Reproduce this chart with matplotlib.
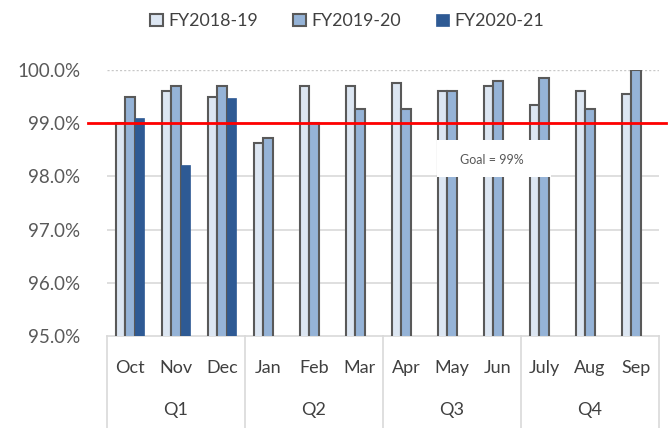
import matplotlib
matplotlib.use("Agg")
import matplotlib.pyplot as plt
import matplotlib.transforms as mtransforms
from matplotlib.patches import Patch
import numpy as np

months = ["Oct", "Nov", "Dec", "Jan", "Feb", "Mar", "Apr", "May", "Jun", "July", "Aug", "Sep"]
quarters = ["Q1", "Q2", "Q3", "Q4"]
fy2018_19 = [99.0, 99.6, 99.5, 98.62, 99.7, 99.7, 99.75, 99.6, 99.7, 99.35, 99.6, 99.55]
fy2019_20 = [99.5, 99.7, 99.7, 98.72, 99.0, 99.26, 99.26, 99.6, 99.8, 99.85, 99.26, 100.0]
fy2020_21 = [99.1, 98.22, 99.48, None, None, None, None, None, None, None, None, None]
series_names = ["FY2018-19", "FY2019-20", "FY2020-21"]
goal = 99.0
yticks = [95, 96, 97, 98, 99, 100]

plt.rcParams['font.family'] = ['Lato', 'DejaVu Sans']

fig = plt.figure(figsize=(6.71, 4.28), dpi=100)
ax = fig.add_axes([107/671, 1 - 336/428, (659-107)/671, (336-70)/428])

x = np.arange(len(months))
w = 0.21
c1, c2, c3 = "#dce6f2", "#95b3d7", "#2e5a94"
edge = "#595959"

ax.bar(x - w, fy2018_19, width=w, color=c1, edgecolor=edge, linewidth=1.5, zorder=3)
ax.bar(x, fy2019_20, width=w, color=c2, edgecolor=edge, linewidth=1.5, zorder=3)
xv = [xi + w for xi, v in zip(x, fy2020_21) if v is not None]
vv = [v for v in fy2020_21 if v is not None]
ax.bar(xv, vv, width=w, color=c3, edgecolor=c3, linewidth=0.5, zorder=3)

ax.set_xlim(-0.5, len(months) - 0.5)
ax.set_ylim(95, 100)
ax.set_yticks(yticks)
ax.set_yticklabels([f"{t:.1f}%" for t in yticks], fontsize=13.5, color="#595959")
ax.tick_params(axis='y', length=0, pad=19)
ax.tick_params(axis='x', length=0, labelbottom=False)
ax.set_xticks([])
for y in yticks[1:-1]:
    ax.axhline(y, color="#d9d9d9", linewidth=1.2, zorder=1)
ax.axhline(100, color="#c8c8c8", linewidth=1.0, linestyle=(0, (1.5, 1.5)), zorder=1)

for s in ["top", "right", "left"]:
    ax.spines[s].set_visible(False)
ax.spines["bottom"].set_color("#d9d9d9")
ax.spines["bottom"].set_linewidth(1.2)

# goal line
ax.plot([-0.035, 1.012], [goal, goal], color="#ff0000", linewidth=2,
        transform=mtransforms.blended_transform_factory(ax.transAxes, ax.transData),
        clip_on=False, zorder=5)

# goal label box
ax.add_patch(plt.Rectangle((6.68, 97.99), 2.47, 0.69, facecolor="white", edgecolor="none", zorder=5.5))
ax.text(7.87, 98.31, "Goal = 99%", fontsize=9, color="#595959", ha="center", va="center", zorder=6)

# category axis
blend = mtransforms.blended_transform_factory(ax.transData, ax.transAxes)
for b in [-0.5, 2.5, 5.5, 8.5, 11.5]:
    ax.plot([b, b], [0, -0.36], color="#d9d9d9", linewidth=1.2, transform=blend, clip_on=False)
for xi, m in zip(x, months):
    ax.text(xi, -0.12, m, transform=blend, ha="center", va="center", fontsize=13, color="#404040")
for qi, q in enumerate(quarters):
    ax.text(qi * 3 + 1, -0.278, q, transform=blend, ha="center", va="center", fontsize=13, color="#404040")

handles = [Patch(facecolor=c1, edgecolor=edge, linewidth=1.5),
           Patch(facecolor=c2, edgecolor=edge, linewidth=1.5),
           Patch(facecolor=c3, edgecolor=c3, linewidth=0.5)]
fig.legend(handles, series_names, loc="center", bbox_to_anchor=(347/671, 1 - 21/428), ncol=3,
           frameon=False, fontsize=12.8, labelcolor="#404040", handlelength=0.7, handleheight=0.7,
           handletextpad=0.3, columnspacing=2.0)

fig.savefig("out.png", dpi=100)
